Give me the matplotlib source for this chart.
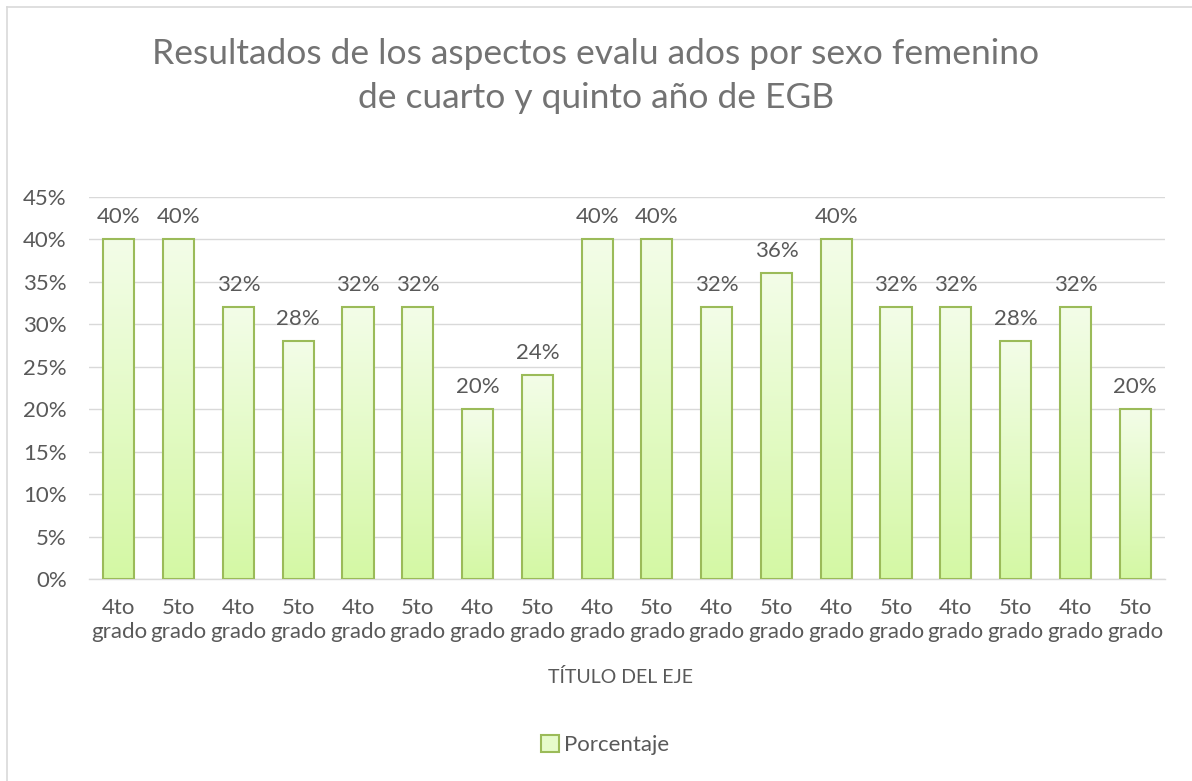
import numpy as np
import matplotlib.pyplot as plt
from matplotlib.patches import Rectangle
from matplotlib.lines import Line2D
from matplotlib.ticker import FuncFormatter
from matplotlib.colors import LinearSegmentedColormap

categorias = ["4to\ngrado", "5to\ngrado"] * 9
porcentaje = [40, 40, 32, 28, 32, 32, 20, 24, 40, 40, 32, 36, 40, 32, 32, 28, 32, 20]

plt.rcParams['font.family'] = ['Lato', 'DejaVu Sans']
gris = "#595959"

W, H = 1192, 781
fig = plt.figure(figsize=(W / 100, H / 100), dpi=100)
# area de trazado: x 89..1165 px, y 197..579 px
ax = fig.add_axes([89 / W, 1 - 579 / H, (1165 - 89) / W, (579 - 197) / H])

x = np.arange(len(porcentaje))
bars = ax.bar(x, porcentaje, width=0.52, color="none", edgecolor="#9bbb59",
              linewidth=1.5, zorder=3, label="Porcentaje")

# degradado en cada barra
grad = np.linspace(0, 1, 256).reshape(-1, 1)
cmap = LinearSegmentedColormap.from_list("verde", ["#d4f8a4", "#f3fde8"])
for b in bars:
    bx, by = b.get_x(), b.get_y()
    w, h = b.get_width(), b.get_height()
    im = ax.imshow(grad, cmap=cmap, aspect="auto", origin="lower",
                   extent=[bx, bx + w, by, by + h], zorder=2)
    im.set_clip_path(b)

for xi, v in zip(x, porcentaje):
    ax.annotate(f"{v}%", (xi, v), xytext=(0, 9), textcoords="offset points",
                ha="center", va="bottom", fontsize=16, color=gris)

ax.set_xlim(-0.5, len(porcentaje) - 0.5)
ax.set_ylim(0, 45)
ax.set_yticks(np.arange(0, 46, 5))
ax.yaxis.set_major_formatter(FuncFormatter(lambda v, p: f"{v:.0f}%"))
ax.set_xticks(x)
ax.set_xticklabels(categorias, fontsize=16, color=gris, linespacing=1.2)
ax.tick_params(axis="y", labelsize=16, labelcolor=gris, length=0, pad=16)
ax.tick_params(axis="x", length=0, pad=14)
ax.grid(axis="y", color="#d9d9d9", linewidth=1, zorder=0)
ax.set_axisbelow(True)
for s in ["top", "right", "left"]:
    ax.spines[s].set_visible(False)
ax.spines["bottom"].set_color("#d9d9d9")
ax.spines["bottom"].set_linewidth(1)

fig.text(621 / W, 1 - 683 / H, "TÍTULO DEL EJE", ha="center", va="baseline",
         fontsize=14, color=gris)

fig.text(0.5, 1 - 64 / H, "Resultados de los aspectos evalu ados por sexo femenino",
         ha="center", va="baseline", fontsize=25.5, color="#737373")
fig.text(0.5, 1 - 108 / H, "de cuarto y quinto año de EGB",
         ha="center", va="baseline", fontsize=25.5, color="#737373")

leg = fig.legend(handles=[Rectangle((0, 0), 1, 1, facecolor="#e6fbcb", edgecolor="#9bbb59", linewidth=1.5)],
                 labels=["Porcentaje"], loc="center", bbox_to_anchor=(605 / W, 1 - 745 / H),
                 frameon=False, fontsize=16, handlelength=0.8, handleheight=0.8,
                 handletextpad=0.2, labelcolor=gris)

# borde del gráfico (solo arriba e izquierda visibles)
fig.add_artist(Line2D([7 / W, 1], [1 - 7 / H, 1 - 7 / H], transform=fig.transFigure,
                      color="#d9d9d9", linewidth=1.2))
fig.add_artist(Line2D([7 / W, 7 / W], [0, 1 - 7 / H], transform=fig.transFigure,
                      color="#d9d9d9", linewidth=1.2))

fig.savefig("out.png", dpi=100, facecolor="white")
